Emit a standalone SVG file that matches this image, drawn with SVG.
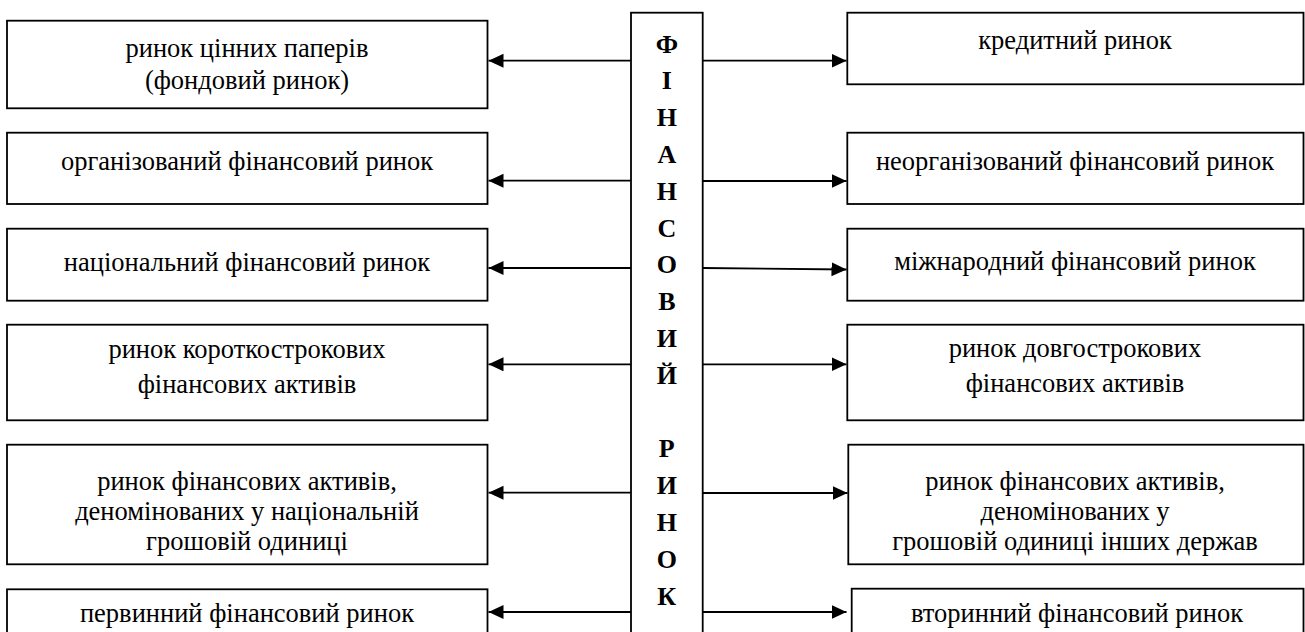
<svg xmlns="http://www.w3.org/2000/svg" width="1305" height="632" viewBox="0 0 1305 632">
<style>
.box{fill:#fff;stroke:#000;stroke-width:1.8}
.t{font-family:"Liberation Serif","Times New Roman",serif;font-size:26.5px;text-anchor:middle;fill:#000}
.c{font-family:"Liberation Serif","Times New Roman",serif;font-size:26px;font-weight:bold;text-anchor:middle;fill:#000}
.ln{stroke:#000;stroke-width:1.8;fill:none;marker-end:url(#ah)}
</style>
<defs>
<marker id="ah" markerUnits="userSpaceOnUse" markerWidth="16" markerHeight="15" refX="15" refY="7" orient="auto">
<path d="M0,0 L15,7 L0,14 z" fill="#000"/>
</marker>
</defs>
<rect width="1305" height="632" fill="#fff"/>
<g id="connectors">
<line class="ln" x1="631" y1="60.7" x2="488.5" y2="60.7"/>
<line class="ln" x1="631" y1="180.7" x2="488.5" y2="180.7"/>
<line class="ln" x1="631" y1="268" x2="488.5" y2="268"/>
<line class="ln" x1="631" y1="364.3" x2="488.5" y2="364.3"/>
<line class="ln" x1="631" y1="492.7" x2="488.5" y2="492.7"/>
<line class="ln" x1="631" y1="612" x2="488.5" y2="612"/>
<line class="ln" x1="702.7" y1="60.7" x2="846.5" y2="60.7"/>
<line class="ln" x1="702.7" y1="181" x2="846.5" y2="181"/>
<line class="ln" x1="702.7" y1="268" x2="846.5" y2="269.5"/>
<line class="ln" x1="702.7" y1="364.3" x2="846.5" y2="364.3"/>
<line class="ln" x1="702.7" y1="493" x2="847.5" y2="493"/>
<line class="ln" x1="702.7" y1="612" x2="846.5" y2="612"/>
</g>
<g id="center">
<rect class="box" x="631" y="12.7" width="71.7" height="640"/>
<text class="c" x="666.8" y="52.5">Ф</text>
<text class="c" x="666.8" y="89.3">І</text>
<text class="c" x="666.8" y="126.1">Н</text>
<text class="c" x="666.8" y="162.9">А</text>
<text class="c" x="666.8" y="199.7">Н</text>
<text class="c" x="666.8" y="236.5">С</text>
<text class="c" x="666.8" y="273.3">О</text>
<text class="c" x="666.8" y="310.1">В</text>
<text class="c" x="666.8" y="346.9">И</text>
<text class="c" x="666.8" y="383.7">Й</text>
<text class="c" x="666.8" y="457.3">Р</text>
<text class="c" x="666.8" y="494.1">И</text>
<text class="c" x="666.8" y="530.9">Н</text>
<text class="c" x="666.8" y="567.7">О</text>
<text class="c" x="666.8" y="604.5">К</text>
</g>
<g id="l1"><rect class="box" x="7" y="20.7" width="480.5" height="87.6"/>
<text class="t" x="247" y="57">ринок цінних паперів</text>
<text class="t" x="247" y="89">(фондовий ринок)</text></g>
<g id="l2"><rect class="box" x="7" y="132.7" width="480.5" height="71.3"/>
<text class="t" x="247" y="170">організований фінансовий ринок</text></g>
<g id="l3"><rect class="box" x="7" y="228.7" width="480.5" height="72"/>
<text class="t" x="247" y="271">національний фінансовий ринок</text></g>
<g id="l4"><rect class="box" x="7" y="324.7" width="480.5" height="95.6"/>
<text class="t" x="247" y="358">ринок короткострокових</text>
<text class="t" x="247" y="393">фінансових активів</text></g>
<g id="l5"><rect class="box" x="7" y="444.7" width="480.5" height="119.6"/>
<text class="t" x="247" y="490">ринок фінансових активів,</text>
<text class="t" x="247" y="520">деномінованих у національній</text>
<text class="t" x="247" y="550">грошовій одиниці</text></g>
<g id="l6"><rect class="box" x="7" y="589.3" width="480.5" height="60"/>
<text class="t" x="247" y="622">первинний фінансовий ринок</text></g>
<g id="r1"><rect class="box" x="847.3" y="12.7" width="456.2" height="71.6"/>
<text class="t" x="1075" y="49">кредитний ринок</text></g>
<g id="r2"><rect class="box" x="847.3" y="132.7" width="456.2" height="71.3"/>
<text class="t" x="1075" y="170">неорганізований фінансовий ринок</text></g>
<g id="r3"><rect class="box" x="847.3" y="228.7" width="456.2" height="72"/>
<text class="t" x="1075" y="270">міжнародний фінансовий ринок</text></g>
<g id="r4"><rect class="box" x="847.3" y="324.7" width="456.2" height="95.6"/>
<text class="t" x="1075" y="357">ринок довгострокових</text>
<text class="t" x="1075" y="392">фінансових активів</text></g>
<g id="r5"><rect class="box" x="848.3" y="444.7" width="455.2" height="119.6"/>
<text class="t" x="1075" y="490">ринок фінансових активів,</text>
<text class="t" x="1075" y="520">деномінованих у</text>
<text class="t" x="1075" y="550">грошовій одиниці інших держав</text></g>
<g id="r6"><rect class="box" x="851.7" y="588.7" width="451.8" height="60"/>
<text class="t" x="1077" y="622">вторинний фінансовий ринок</text></g>
</svg>
